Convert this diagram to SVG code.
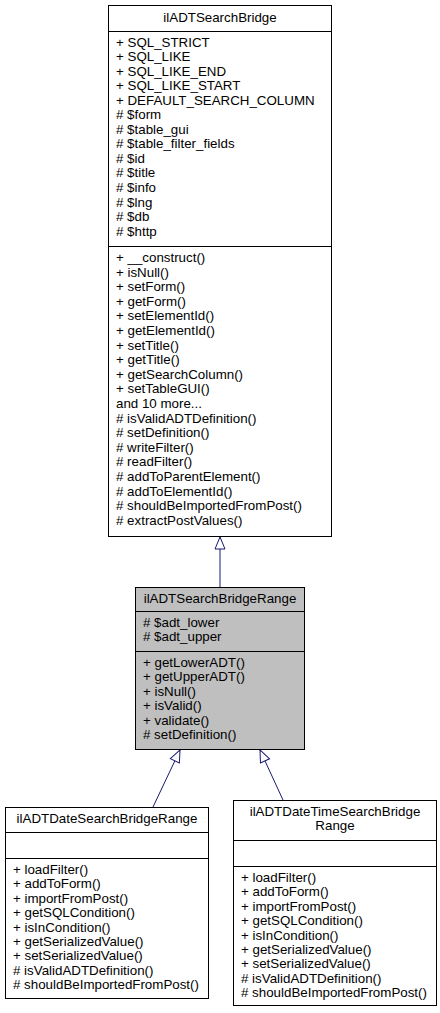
<svg xmlns="http://www.w3.org/2000/svg" width="440" height="1013" viewBox="0 0 440 1013">
<style>
text{font-family:"Liberation Sans",Arial,Helvetica,sans-serif;font-size:13.33px;fill:#000}
.c{text-anchor:middle}
.box{fill:#fff;stroke:#000;stroke-width:1}
.hl{fill:#bfbfbf;stroke:#000;stroke-width:1}
.sep{stroke:#000;stroke-width:1}
.edge{stroke:#191970;stroke-width:1;fill:none;marker-end:url(#tri)}
</style>
<defs>
<marker id="tri" markerUnits="userSpaceOnUse" markerWidth="16" markerHeight="14" refX="13" refY="7" orient="auto" overflow="visible">
<path d="M1,2 L13,7 L1,12 Z" fill="#fff" stroke="#191970" stroke-width="1"/>
</marker>
</defs>
<rect width="440" height="1013" fill="#fff"/>
<g id="connectors">
<path class="edge" d="M220,587 L220,537"/>
<path class="edge" d="M153,807 L180,750"/>
<path class="edge" d="M283,800 L260,750"/>
</g>
<g id="ilADTSearchBridge">
<rect class="box" x="108.5" y="5.5" width="223" height="531"/>
<line class="sep" x1="108.5" y1="31.5" x2="331.5" y2="31.5"/>
<line class="sep" x1="108.5" y1="246.5" x2="331.5" y2="246.5"/>
<text class="c" x="220" y="22">ilADTSearchBridge</text>
<text x="116" y="46.5">+ SQL_STRICT</text>
<text x="116" y="61">+ SQL_LIKE</text>
<text x="116" y="75.6">+ SQL_LIKE_END</text>
<text x="116" y="90.2">+ SQL_LIKE_START</text>
<text x="116" y="104.7">+ DEFAULT_SEARCH_COLUMN</text>
<text x="116" y="119.2"># $form</text>
<text x="116" y="133.8"># $table_gui</text>
<text x="116" y="148.4"># $table_filter_fields</text>
<text x="116" y="162.9"># $id</text>
<text x="116" y="177.4"># $title</text>
<text x="116" y="192"># $info</text>
<text x="116" y="206.6"># $lng</text>
<text x="116" y="221.1"># $db</text>
<text x="116" y="235.6"># $http</text>
<text x="116" y="262">+ __construct()</text>
<text x="116" y="276.6">+ isNull()</text>
<text x="116" y="291.2">+ setForm()</text>
<text x="116" y="305.8">+ getForm()</text>
<text x="116" y="320.4">+ setElementId()</text>
<text x="116" y="335">+ getElementId()</text>
<text x="116" y="349.6">+ setTitle()</text>
<text x="116" y="364.2">+ getTitle()</text>
<text x="116" y="378.8">+ getSearchColumn()</text>
<text x="116" y="393.4">+ setTableGUI()</text>
<text x="116" y="408">and 10 more...</text>
<text x="116" y="422.6"># isValidADTDefinition()</text>
<text x="116" y="437.2"># setDefinition()</text>
<text x="116" y="451.8"># writeFilter()</text>
<text x="116" y="466.4"># readFilter()</text>
<text x="116" y="481"># addToParentElement()</text>
<text x="116" y="495.6"># addToElementId()</text>
<text x="116" y="510.2"># shouldBeImportedFromPost()</text>
<text x="116" y="524.8"># extractPostValues()</text>
</g>
<g id="ilADTSearchBridgeRange">
<rect class="hl" x="135.5" y="587.5" width="169" height="162"/>
<line class="sep" x1="135.5" y1="611.5" x2="304.5" y2="611.5"/>
<line class="sep" x1="135.5" y1="651.5" x2="304.5" y2="651.5"/>
<text class="c" x="220" y="603">ilADTSearchBridgeRange</text>
<text x="143" y="627"># $adt_lower</text>
<text x="143" y="641.4"># $adt_upper</text>
<text x="143" y="667">+ getLowerADT()</text>
<text x="143" y="681.4">+ getUpperADT()</text>
<text x="143" y="695.8">+ isNull()</text>
<text x="143" y="710.2">+ isValid()</text>
<text x="143" y="724.6">+ validate()</text>
<text x="143" y="739"># setDefinition()</text>
</g>
<g id="ilADTDateSearchBridgeRange">
<rect class="box" x="5.5" y="807.5" width="203" height="191"/>
<line class="sep" x1="5.5" y1="832.5" x2="208.5" y2="832.5"/>
<line class="sep" x1="5.5" y1="858.5" x2="208.5" y2="858.5"/>
<text class="c" x="107" y="823">ilADTDateSearchBridgeRange</text>
<text x="13" y="874">+ loadFilter()</text>
<text x="13" y="888.4">+ addToForm()</text>
<text x="13" y="902.8">+ importFromPost()</text>
<text x="13" y="917.2">+ getSQLCondition()</text>
<text x="13" y="931.6">+ isInCondition()</text>
<text x="13" y="946">+ getSerializedValue()</text>
<text x="13" y="960.4">+ setSerializedValue()</text>
<text x="13" y="974.8"># isValidADTDefinition()</text>
<text x="13" y="989.2"># shouldBeImportedFromPost()</text>
</g>
<g id="ilADTDateTimeSearchBridgeRange">
<rect class="box" x="233.5" y="800.5" width="203" height="205"/>
<line class="sep" x1="233.5" y1="840.5" x2="436.5" y2="840.5"/>
<line class="sep" x1="233.5" y1="866.5" x2="436.5" y2="866.5"/>
<text class="c" x="335" y="816">ilADTDateTimeSearchBridge</text>
<text class="c" x="335" y="830.4">Range</text>
<text x="241" y="882">+ loadFilter()</text>
<text x="241" y="896.4">+ addToForm()</text>
<text x="241" y="910.8">+ importFromPost()</text>
<text x="241" y="925.2">+ getSQLCondition()</text>
<text x="241" y="939.6">+ isInCondition()</text>
<text x="241" y="954">+ getSerializedValue()</text>
<text x="241" y="968.4">+ setSerializedValue()</text>
<text x="241" y="982.8"># isValidADTDefinition()</text>
<text x="241" y="997.2"># shouldBeImportedFromPost()</text>
</g>
</svg>
